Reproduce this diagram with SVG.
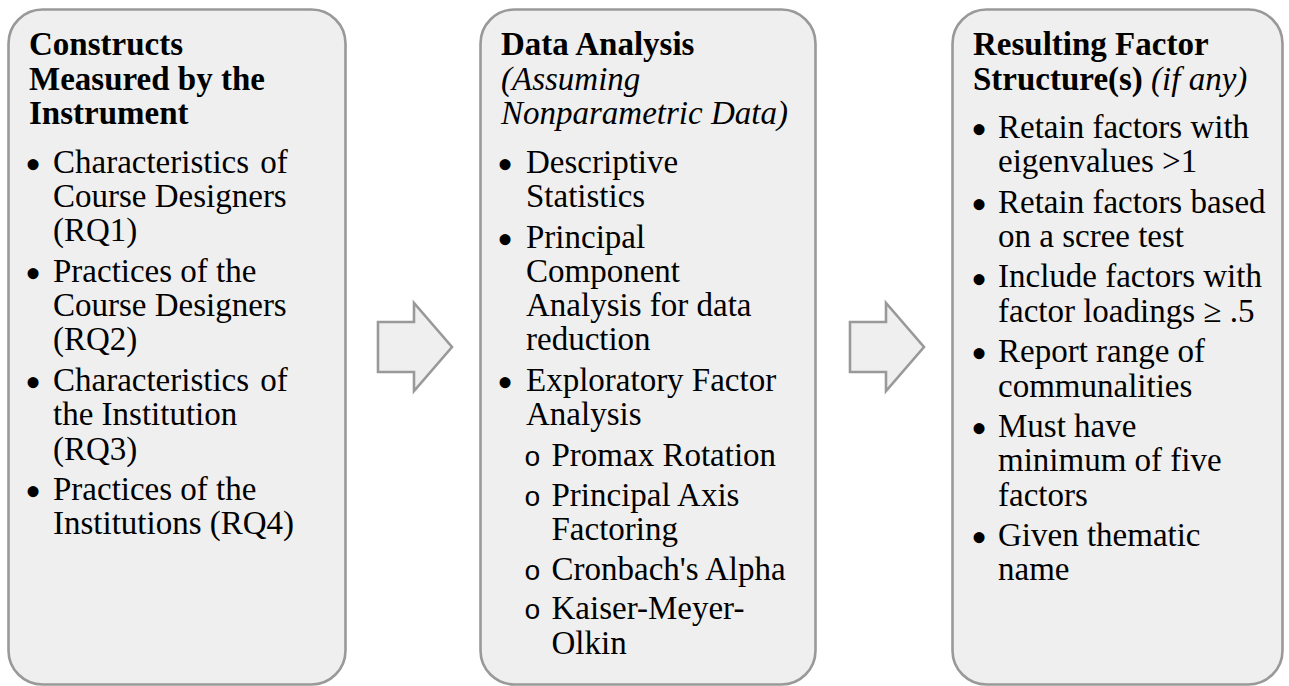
<svg xmlns="http://www.w3.org/2000/svg" width="1289" height="686" viewBox="0 0 1289 686">
  <style>
    .box { fill: #efefef; stroke: #999999; stroke-width: 2.6; }
    .arrow { fill: #efefef; stroke: #999999; stroke-width: 2.6; stroke-linejoin: miter; }
    text { font-family: "Liberation Serif", "Times New Roman", serif; font-size: 33px; fill: #000000; }
    .title { font-weight: bold; }
    .note { font-style: italic; font-weight: normal; }
    .dot { font-size: 46px; }
    .sub { font-family: "Liberation Mono", "Courier New", monospace; font-size: 28px; }
  </style>
  <rect width="1289" height="686" fill="#ffffff"/>

  <!-- Column 1: constructs -->
  <g id="constructs">
    <rect class="box" x="8.5" y="9.5" width="337" height="675" rx="34" ry="34"/>
    <text class="title" x="29" y="55">Constructs</text>
    <text class="title" x="29" y="89.5">Measured by the</text>
    <text class="title" x="29" y="124">Instrument</text>
    <text class="dot" x="25" y="180">•</text>
    <text x="53" y="172.7" word-spacing="3">Characteristics of</text>
    <text x="53" y="207">Course Designers</text>
    <text x="53" y="241.3">(RQ1)</text>
    <text class="dot" x="25" y="289">•</text>
    <text x="53" y="281.8">Practices of the</text>
    <text x="53" y="316.1">Course Designers</text>
    <text x="53" y="350.4">(RQ2)</text>
    <text class="dot" x="25" y="398">•</text>
    <text x="53" y="390.9" word-spacing="3">Characteristics of</text>
    <text x="53" y="425.2">the Institution</text>
    <text x="53" y="459.5">(RQ3)</text>
    <text class="dot" x="25" y="507">•</text>
    <text x="53" y="500">Practices of the</text>
    <text x="53" y="534.3">Institutions (RQ4)</text>
  </g>

  <!-- Column 2: data analysis -->
  <g id="analysis">
    <rect class="box" x="480.5" y="9.5" width="335" height="675" rx="34" ry="34"/>
    <text class="title" x="501" y="55">Data Analysis</text>
    <text class="note" x="501" y="89.5">(Assuming</text>
    <text class="note" x="501" y="124">Nonparametric Data)</text>
    <text class="dot" x="497" y="180">•</text>
    <text x="526" y="172.7">Descriptive</text>
    <text x="526" y="207">Statistics</text>
    <text class="dot" x="497" y="254.8">•</text>
    <text x="526" y="247.5">Principal</text>
    <text x="526" y="281.8">Component</text>
    <text x="526" y="316.1">Analysis for data</text>
    <text x="526" y="350.4">reduction</text>
    <text class="dot" x="497" y="398">•</text>
    <text x="526" y="390.9">Exploratory Factor</text>
    <text x="526" y="425.2">Analysis</text>
    <text class="sub" x="524" y="465.7">o</text>
    <text x="551.5" y="465.7">Promax Rotation</text>
    <text class="sub" x="524" y="505.5">o</text>
    <text x="551.5" y="505.5">Principal Axis</text>
    <text x="551.5" y="539.8">Factoring</text>
    <text class="sub" x="524" y="579.6">o</text>
    <text x="551.5" y="579.6">Cronbach's Alpha</text>
    <text class="sub" x="524" y="619.4">o</text>
    <text x="551.5" y="619.4">Kaiser-Meyer-</text>
    <text x="551.5" y="653.7">Olkin</text>
  </g>

  <!-- Column 3: resulting factor structure -->
  <g id="result">
    <rect class="box" x="952.5" y="9.5" width="330" height="675" rx="34" ry="34"/>
    <text class="title" x="973" y="55">Resulting Factor</text>
    <text class="title" x="973" y="89.5">Structure(s) <tspan class="note">(if any)</tspan></text>
    <text class="dot" x="971" y="145">•</text>
    <text x="998" y="137.8">Retain factors with</text>
    <text x="998" y="172.1">eigenvalues &gt;1</text>
    <text class="dot" x="971" y="219.8">•</text>
    <text x="998" y="212.6">Retain factors based</text>
    <text x="998" y="246.9">on a scree test</text>
    <text class="dot" x="971" y="294.6">•</text>
    <text x="998" y="287.4">Include factors with</text>
    <text x="998" y="321.7">factor loadings ≥ .5</text>
    <text class="dot" x="971" y="369.4">•</text>
    <text x="998" y="362.2">Report range of</text>
    <text x="998" y="396.5">communalities</text>
    <text class="dot" x="971" y="444.2">•</text>
    <text x="998" y="437">Must have</text>
    <text x="998" y="471.3">minimum of five</text>
    <text x="998" y="505.6">factors</text>
    <text class="dot" x="971" y="553.3">•</text>
    <text x="998" y="546.1">Given thematic</text>
    <text x="998" y="580.4">name</text>
  </g>

  <!-- Block arrows between the columns -->
  <g id="connectors">
    <polygon class="arrow" points="378,322 414,322 414,303 452,347 414,391 414,372 378,372"/>
    <polygon class="arrow" points="850,322 886,322 886,303 924,347 886,391 886,372 850,372"/>
  </g>
</svg>
